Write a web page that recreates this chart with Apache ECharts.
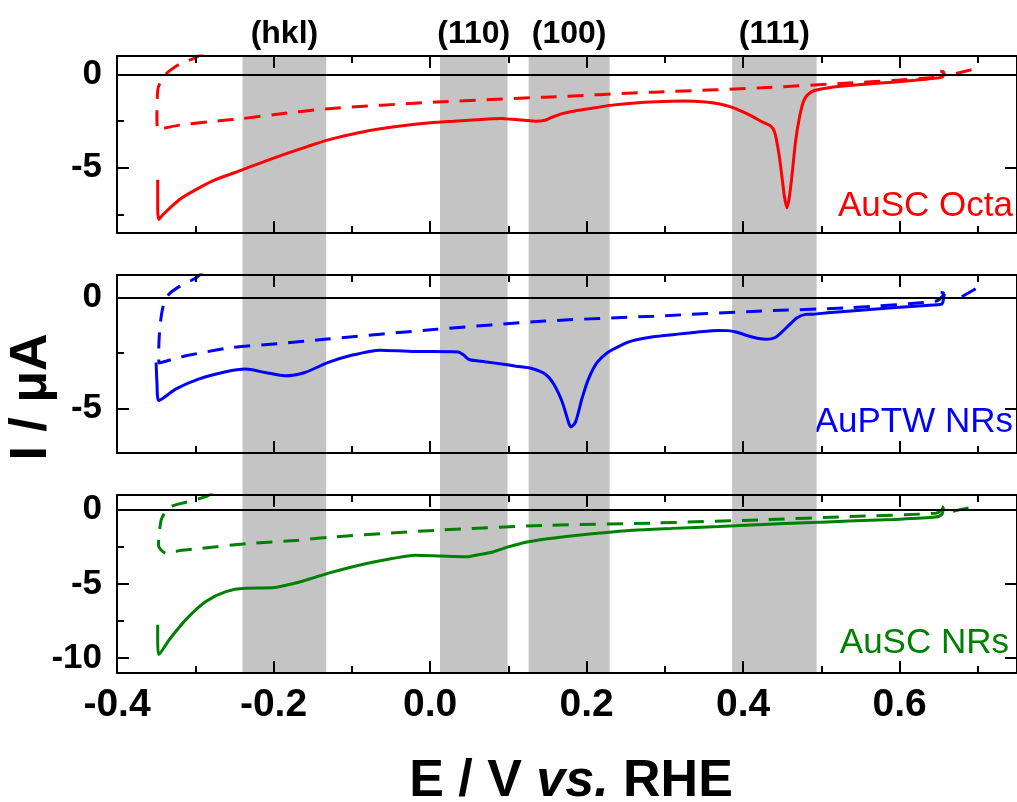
<!DOCTYPE html>
<html><head><meta charset="utf-8">
<script src="https://cdn.jsdelivr.net/npm/echarts@6/dist/echarts.min.js"></script>
<style>html,body{margin:0;padding:0;background:#fff}#c{width:1017px;height:802px}</style>
</head><body><div id="c"></div>
<script>
// ---------- data ----------
const xMajorTicks = [-0.4, -0.2, 0, 0.2, 0.4, 0.6];
const xMinorTicks = [-0.3, -0.1, 0.1, 0.3, 0.5, 0.7];
const bandStart = [-0.2396, 0.0127, 0.126, 0.386];
const bandEnd = [-0.1326, 0.099, 0.2295, 0.494];
const bandLabels = ['(hkl)', '(110)', '(100)', '(111)'];
const panelNames = ['AuSC Octa', 'AuPTW NRs', 'AuSC NRs'];
const panelColors = ['#ff0000', '#0000ff', '#008000'];
const yMins = [-8.5, -7, -11];
const yMaxs = [1, 1, 1];
const yMajorTicks = [[-5, 0], [-5, 0], [-10, -5, 0]];
const yMinorTicks = [[-7.5, -2.5], [-2.5], [-7.5, -2.5]];

const octaSolid = [[0.657,0.12],[0.655,-0.12],[0.648,-0.18],[0.62,-0.30],[0.591,-0.41],[0.56,-0.50],[0.535,-0.59],[0.51,-0.70],[0.491,-0.85],[0.482,-1.1],[0.477,-1.45],[0.472,-2.3],[0.467,-3.6],[0.463,-5.2],[0.459,-6.6],[0.456,-7.15],[0.453,-6.6],[0.450,-5.6],[0.447,-4.6],[0.444,-3.8],[0.440,-3.05],[0.435,-2.75],[0.425,-2.55],[0.413,-2.27],[0.40,-2.0],[0.385,-1.74],[0.37,-1.58],[0.352,-1.47],[0.324,-1.42],[0.29,-1.45],[0.258,-1.53],[0.23,-1.65],[0.2025,-1.83],[0.185,-1.95],[0.169,-2.09],[0.155,-2.3],[0.147,-2.45],[0.135,-2.5],[0.12,-2.45],[0.105,-2.4],[0.0915,-2.36],[0.06,-2.42],[0.03,-2.5],[0.008,-2.56],[-0.03,-2.72],[-0.075,-2.98],[-0.10,-3.2],[-0.13,-3.5],[-0.156,-3.85],[-0.198,-4.45],[-0.240,-5.11],[-0.274,-5.64],[-0.295,-6.08],[-0.320,-6.70],[-0.341,-7.5],[-0.3466,-7.77],[-0.348,-7.2],[-0.348,-5.64]];
const octaDash = [[-0.29,1.15],[-0.301,0.89],[-0.32,0.57],[-0.333,0.2],[-0.339,-0.05],[-0.3456,-0.5],[-0.348,-0.85],[-0.349,-2.08],[-0.348,-2.98],[-0.34,-2.88],[-0.32,-2.71],[-0.28,-2.52],[-0.24,-2.36],[-0.198,-2.14],[-0.13,-1.83],[0.008,-1.47],[0.147,-1.21],[0.286,-0.94],[0.424,-0.71],[0.535,-0.45],[0.591,-0.32],[0.63,-0.2],[0.652,-0.12],[0.656,0.0],[0.656,0.15],[0.652,0.18]];
const octaTail = [[0.672,0.06],[0.698,0.32]];

const ptwSolid = [[0.657,0.15],[0.655,-0.25],[0.652,-0.33],[0.62,-0.40],[0.591,-0.47],[0.55,-0.58],[0.508,-0.70],[0.49,-0.76],[0.48,-0.77],[0.469,-0.92],[0.4576,-1.29],[0.45,-1.55],[0.441,-1.81],[0.430,-1.89],[0.418,-1.84],[0.405,-1.72],[0.391,-1.56],[0.38,-1.5],[0.369,-1.49],[0.34,-1.57],[0.313,-1.67],[0.285,-1.78],[0.258,-1.96],[0.247,-2.11],[0.227,-2.48],[0.2135,-2.93],[0.2025,-3.67],[0.194,-4.57],[0.186,-5.6],[0.180,-5.83],[0.1775,-5.68],[0.169,-4.72],[0.158,-3.90],[0.147,-3.45],[0.13,-3.2],[0.11,-3.1],[0.0915,-3.0],[0.07,-2.9],[0.05,-2.8],[0.043,-2.6],[0.036,-2.46],[0.0,-2.44],[-0.0195,-2.44],[-0.0638,-2.38],[-0.1027,-2.63],[-0.13,-2.93],[-0.16,-3.38],[-0.185,-3.53],[-0.2105,-3.38],[-0.236,-3.23],[-0.261,-3.35],[-0.295,-3.67],[-0.3245,-4.12],[-0.3466,-4.64],[-0.349,-3.8],[-0.35,-2.93]];
const ptwDash = [[-0.29,1.15],[-0.30,0.85],[-0.32,0.49],[-0.334,0.12],[-0.341,-0.4],[-0.345,-1.29],[-0.3466,-2.33],[-0.3466,-2.96],[-0.33,-2.8],[-0.312,-2.63],[-0.2526,-2.26],[-0.189,-2.07],[-0.135,-1.89],[0.008,-1.44],[0.147,-1.07],[0.286,-0.85],[0.424,-0.62],[0.535,-0.47],[0.646,-0.18],[0.655,0.05],[0.656,0.2],[0.651,0.22]];
const ptwTail = [[0.6795,0.02],[0.699,0.42]];

const scSolid = [[0.656,0.17],[0.654,-0.3],[0.646,-0.49],[0.591,-0.65],[0.535,-0.76],[0.48,-0.87],[0.425,-0.99],[0.369,-1.12],[0.31,-1.25],[0.258,-1.38],[0.21,-1.6],[0.174,-1.79],[0.15,-1.95],[0.124,-2.17],[0.10,-2.5],[0.080,-2.84],[0.06,-3.05],[0.047,-3.17],[0.03,-3.15],[0.014,-3.12],[-0.0195,-3.06],[-0.05,-3.3],[-0.075,-3.55],[-0.10,-3.85],[-0.125,-4.2],[-0.147,-4.55],[-0.1767,-5.0],[-0.202,-5.26],[-0.236,-5.28],[-0.261,-5.51],[-0.2865,-6.18],[-0.312,-7.4],[-0.333,-8.74],[-0.3466,-9.75],[-0.348,-8.8],[-0.348,-7.74]];
const scDash = [[-0.278,1.15],[-0.2865,0.89],[-0.312,0.51],[-0.333,0.17],[-0.343,-0.6],[-0.3456,-1.38],[-0.347,-2.4],[-0.337,-2.94],[-0.32,-2.75],[-0.295,-2.61],[-0.2316,-2.27],[-0.1684,-2.05],[-0.125,-1.83],[0.008,-1.38],[0.147,-1.05],[0.286,-0.89],[0.424,-0.67],[0.535,-0.45],[0.646,-0.23],[0.654,0.0],[0.655,0.2],[0.65,0.22]];
const scTail = [[0.668,-0.09],[0.688,0.13]];

const solids = [octaSolid, ptwSolid, scSolid];
const dashes = [octaDash, ptwDash, scDash];
const tails = [octaTail, ptwTail, scTail];

// ---------- layout ----------
const X_MIN = -0.4, X_MAX = 0.75;
const FONT = '"Liberation Sans", Arial, Helvetica, sans-serif';
const PLOT_LEFT = 117, PLOT_W = 908.5;
const panelTop = [56, 275, 495], panelH = [177, 178, 178];
const MAJOR = 12, MINOR = 7;
const DASH = [16, 11];

const grids = [{left: PLOT_LEFT, width: PLOT_W, top: 55, height: 618}];
panelTop.forEach((t, i) => grids.push({left: PLOT_LEFT, width: PLOT_W, top: t, height: panelH[i]}));

const xAxes = [{gridIndex: 0, type: 'value', min: X_MIN, max: X_MAX, show: false}];
const yAxes = [{gridIndex: 0, type: 'value', min: 0, max: 1, show: false}];

function xAx(g, pos, ticks, len, line, labels) {
  return {gridIndex: g, type: 'value', position: pos, min: X_MIN, max: X_MAX, z: 4,
    axisLine: {show: line, onZero: false, lineStyle: {color: '#000', width: 2}},
    axisTick: {show: true, inside: true, length: len, customValues: ticks, lineStyle: {color: '#000', width: 2}},
    axisLabel: labels ? {show: true, customValues: labels, formatter: v => v.toFixed(1), margin: 13,
      fontSize: 39, fontWeight: 'bold', fontFamily: FONT, color: '#000'} : {show: false},
    splitLine: {show: false}};
}
function yAx(g, pos, mn, mx, ticks, len, line, labels) {
  return {gridIndex: g, type: 'value', position: pos, min: mn, max: mx, z: 4,
    axisLine: {show: line, onZero: false, lineStyle: {color: '#000', width: 2}},
    axisTick: {show: true, inside: true, length: len, customValues: ticks, lineStyle: {color: '#000', width: 2}},
    axisLabel: labels ? {show: true, customValues: labels, margin: 15,
      fontSize: 35, fontWeight: 'bold', fontFamily: FONT, color: '#000'} : {show: false},
    splitLine: {show: false}};
}

const series = [{
  type: 'line', xAxisIndex: 0, yAxisIndex: 0, data: [], z: 1, silent: true,
  markArea: {silent: true, z: 0, itemStyle: {color: '#c4c4c4'},
    label: {show: true, position: 'top', distance: 5, fontSize: 32, fontWeight: 'bold', fontFamily: FONT, color: '#000'},
    data: bandStart.map((s, i) => [{xAxis: s, name: bandLabels[i]}, {xAxis: bandEnd[i]}])}
}];

for (let i = 0; i < 3; i++) {
  const g = i + 1;
  const xb = xAxes.length;
  xAxes.push(xAx(g, 'bottom', xMajorTicks, MAJOR, true, i === 2 ? xMajorTicks : null));
  xAxes.push(xAx(g, 'bottom', xMinorTicks, MINOR, false, null));
  xAxes.push(xAx(g, 'top', xMajorTicks, MAJOR, true, null));
  xAxes.push(xAx(g, 'top', xMinorTicks, MINOR, false, null));
  const yb = yAxes.length;
  yAxes.push(yAx(g, 'left', yMins[i], yMaxs[i], yMajorTicks[i], MAJOR, true, yMajorTicks[i]));
  yAxes.push(yAx(g, 'left', yMins[i], yMaxs[i], yMinorTicks[i], MINOR, false, null));
  yAxes.push(yAx(g, 'right', yMins[i], yMaxs[i], yMajorTicks[i], MAJOR, true, null));
  const base = {type: 'line', xAxisIndex: xb, yAxisIndex: yb, symbol: 'none', smooth: 0.25, z: 3, silent: true};
  series.push(Object.assign({}, base, {data: solids[i], lineStyle: {color: panelColors[i], width: 3, type: 'solid'},
    markLine: {silent: true, symbol: 'none', label: {show: false}, lineStyle: {color: '#000', width: 2, type: 'solid'}, data: [{yAxis: 0}]}}));
  series.push(Object.assign({}, base, {data: dashes[i], lineStyle: {color: panelColors[i], width: 3, type: DASH}}));
  series.push(Object.assign({}, base, {data: tails[i], smooth: false, lineStyle: {color: panelColors[i], width: 3, type: DASH}}));
}

const nameY = [206, 422, 643], nameX = [1013, 1013, 1009];
const graphic = [
  {type: 'text', x: 32, y: 397, rotation: Math.PI / 2, style: {text: 'I / μA', font: 'bold 52px ' + FONT, align: 'center', verticalAlign: 'middle', fill: '#000'}},
  {type: 'text', x: 571, y: 782, style: {text: '{a|E / V }{b|vs.}{a| RHE}', align: 'center', verticalAlign: 'middle', fill: '#000',
    rich: {a: {fontSize: 52, fontWeight: 'bold', fontFamily: FONT, fill: '#000'}, b: {fontSize: 52, fontWeight: 'bold', fontStyle: 'italic', fontFamily: FONT, fill: '#000'}}}}
];
panelNames.forEach((n, i) => graphic.push({type: 'text', x: nameX[i], y: nameY[i],
  style: {text: n, font: '35px ' + FONT, align: 'right', verticalAlign: 'middle', fill: panelColors[i]}}));

const chart = echarts.init(document.getElementById('c'), null, {renderer: 'canvas'});
chart.setOption({animation: false, backgroundColor: '#fff', grid: grids, xAxis: xAxes, yAxis: yAxes, series: series, graphic: graphic});
</script></body></html>
